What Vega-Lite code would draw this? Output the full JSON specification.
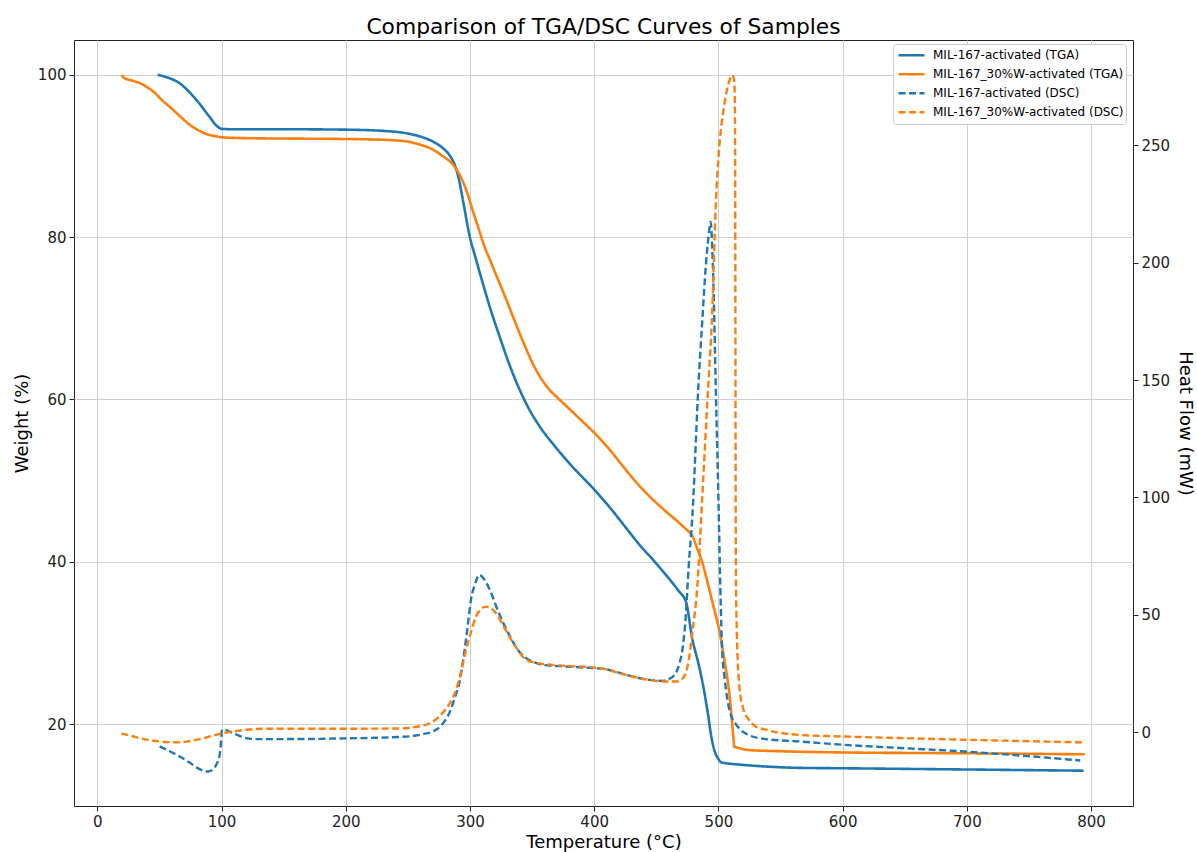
{
  "$schema": "https://vega.github.io/schema/vega-lite/v6.json",
  "width": 1059,
  "height": 766,
  "autosize": {"type": "none"},
  "padding": {"left": 74, "top": 40, "right": 64, "bottom": 46},
  "title": {"text": "Comparison of TGA/DSC Curves of Samples", "fontSize": 21.8, "font": "DejaVu Sans", "fontWeight": "normal", "color": "#000", "offset": 1, "anchor": "middle"},
  "datasets": {
    "tga": [
      {"series": "MIL-167-activated (TGA)", "temp": 48.6, "value": 100}, {"series": "MIL-167-activated (TGA)", "temp": 56, "value": 99.7}, {"series": "MIL-167-activated (TGA)", "temp": 66, "value": 99.0}, {"series": "MIL-167-activated (TGA)", "temp": 74, "value": 97.9}, {"series": "MIL-167-activated (TGA)", "temp": 82, "value": 96.5}, {"series": "MIL-167-activated (TGA)", "temp": 90, "value": 94.9}, {"series": "MIL-167-activated (TGA)", "temp": 97, "value": 93.6}, {"series": "MIL-167-activated (TGA)", "temp": 100, "value": 93.35}, {"series": "MIL-167-activated (TGA)", "temp": 110, "value": 93.3}, {"series": "MIL-167-activated (TGA)", "temp": 150, "value": 93.3}, {"series": "MIL-167-activated (TGA)", "temp": 200, "value": 93.25}, {"series": "MIL-167-activated (TGA)", "temp": 230, "value": 93.1}, {"series": "MIL-167-activated (TGA)", "temp": 249, "value": 92.8}, {"series": "MIL-167-activated (TGA)", "temp": 260, "value": 92.4}, {"series": "MIL-167-activated (TGA)", "temp": 270, "value": 91.8}, {"series": "MIL-167-activated (TGA)", "temp": 278, "value": 91.0}, {"series": "MIL-167-activated (TGA)", "temp": 284, "value": 90.0}, {"series": "MIL-167-activated (TGA)", "temp": 288, "value": 88.8}, {"series": "MIL-167-activated (TGA)", "temp": 291, "value": 87.2}, {"series": "MIL-167-activated (TGA)", "temp": 295, "value": 84.0}, {"series": "MIL-167-activated (TGA)", "temp": 299.5, "value": 80.3}, {"series": "MIL-167-activated (TGA)", "temp": 305, "value": 77.2}, {"series": "MIL-167-activated (TGA)", "temp": 310, "value": 74.5}, {"series": "MIL-167-activated (TGA)", "temp": 317, "value": 70.9}, {"series": "MIL-167-activated (TGA)", "temp": 324, "value": 67.7}, {"series": "MIL-167-activated (TGA)", "temp": 332, "value": 64.2}, {"series": "MIL-167-activated (TGA)", "temp": 340, "value": 61.2}, {"series": "MIL-167-activated (TGA)", "temp": 348, "value": 58.7}, {"series": "MIL-167-activated (TGA)", "temp": 356, "value": 56.7}, {"series": "MIL-167-activated (TGA)", "temp": 368, "value": 54.3}, {"series": "MIL-167-activated (TGA)", "temp": 382, "value": 51.8}, {"series": "MIL-167-activated (TGA)", "temp": 400, "value": 48.9}, {"series": "MIL-167-activated (TGA)", "temp": 412, "value": 46.8}, {"series": "MIL-167-activated (TGA)", "temp": 425, "value": 44.3}, {"series": "MIL-167-activated (TGA)", "temp": 437, "value": 42.0}, {"series": "MIL-167-activated (TGA)", "temp": 447, "value": 40.3}, {"series": "MIL-167-activated (TGA)", "temp": 456, "value": 38.7}, {"series": "MIL-167-activated (TGA)", "temp": 463, "value": 37.4}, {"series": "MIL-167-activated (TGA)", "temp": 468, "value": 36.4}, {"series": "MIL-167-activated (TGA)", "temp": 474, "value": 35.0}, {"series": "MIL-167-activated (TGA)", "temp": 479, "value": 30.5}, {"series": "MIL-167-activated (TGA)", "temp": 484, "value": 27.4}, {"series": "MIL-167-activated (TGA)", "temp": 488, "value": 24.5}, {"series": "MIL-167-activated (TGA)", "temp": 491, "value": 21.8}, {"series": "MIL-167-activated (TGA)", "temp": 494.6, "value": 18.2}, {"series": "MIL-167-activated (TGA)", "temp": 497.8, "value": 16.3}, {"series": "MIL-167-activated (TGA)", "temp": 500, "value": 15.7}, {"series": "MIL-167-activated (TGA)", "temp": 502, "value": 15.3}, {"series": "MIL-167-activated (TGA)", "temp": 510, "value": 15.1}, {"series": "MIL-167-activated (TGA)", "temp": 517, "value": 15.0}, {"series": "MIL-167-activated (TGA)", "temp": 540, "value": 14.75}, {"series": "MIL-167-activated (TGA)", "temp": 565, "value": 14.6}, {"series": "MIL-167-activated (TGA)", "temp": 600, "value": 14.55}, {"series": "MIL-167-activated (TGA)", "temp": 700, "value": 14.4}, {"series": "MIL-167-activated (TGA)", "temp": 794, "value": 14.25},
      {"series": "MIL-167_30%W-activated (TGA)", "temp": 19.9, "value": 100}, {"series": "MIL-167_30%W-activated (TGA)", "temp": 20.5, "value": 99.8}, {"series": "MIL-167_30%W-activated (TGA)", "temp": 22, "value": 99.6}, {"series": "MIL-167_30%W-activated (TGA)", "temp": 28, "value": 99.3}, {"series": "MIL-167_30%W-activated (TGA)", "temp": 34, "value": 99.0}, {"series": "MIL-167_30%W-activated (TGA)", "temp": 40, "value": 98.5}, {"series": "MIL-167_30%W-activated (TGA)", "temp": 45, "value": 97.95}, {"series": "MIL-167_30%W-activated (TGA)", "temp": 52, "value": 96.9}, {"series": "MIL-167_30%W-activated (TGA)", "temp": 61, "value": 95.7}, {"series": "MIL-167_30%W-activated (TGA)", "temp": 68, "value": 94.7}, {"series": "MIL-167_30%W-activated (TGA)", "temp": 74.4, "value": 93.85}, {"series": "MIL-167_30%W-activated (TGA)", "temp": 81, "value": 93.2}, {"series": "MIL-167_30%W-activated (TGA)", "temp": 88, "value": 92.7}, {"series": "MIL-167_30%W-activated (TGA)", "temp": 95, "value": 92.45}, {"series": "MIL-167_30%W-activated (TGA)", "temp": 101, "value": 92.3}, {"series": "MIL-167_30%W-activated (TGA)", "temp": 120, "value": 92.2}, {"series": "MIL-167_30%W-activated (TGA)", "temp": 155, "value": 92.15}, {"series": "MIL-167_30%W-activated (TGA)", "temp": 200, "value": 92.1}, {"series": "MIL-167_30%W-activated (TGA)", "temp": 230, "value": 92.0}, {"series": "MIL-167_30%W-activated (TGA)", "temp": 249, "value": 91.8}, {"series": "MIL-167_30%W-activated (TGA)", "temp": 260, "value": 91.4}, {"series": "MIL-167_30%W-activated (TGA)", "temp": 270, "value": 90.8}, {"series": "MIL-167_30%W-activated (TGA)", "temp": 278, "value": 90.0}, {"series": "MIL-167_30%W-activated (TGA)", "temp": 286, "value": 89.0}, {"series": "MIL-167_30%W-activated (TGA)", "temp": 292, "value": 87.6}, {"series": "MIL-167_30%W-activated (TGA)", "temp": 297, "value": 85.8}, {"series": "MIL-167_30%W-activated (TGA)", "temp": 302, "value": 83.4}, {"series": "MIL-167_30%W-activated (TGA)", "temp": 307.5, "value": 80.8}, {"series": "MIL-167_30%W-activated (TGA)", "temp": 310, "value": 79.6}, {"series": "MIL-167_30%W-activated (TGA)", "temp": 318, "value": 76.5}, {"series": "MIL-167_30%W-activated (TGA)", "temp": 329, "value": 72.4}, {"series": "MIL-167_30%W-activated (TGA)", "temp": 342, "value": 67.4}, {"series": "MIL-167_30%W-activated (TGA)", "temp": 350, "value": 64.6}, {"series": "MIL-167_30%W-activated (TGA)", "temp": 356, "value": 62.9}, {"series": "MIL-167_30%W-activated (TGA)", "temp": 364, "value": 61.2}, {"series": "MIL-167_30%W-activated (TGA)", "temp": 372, "value": 60.0}, {"series": "MIL-167_30%W-activated (TGA)", "temp": 385, "value": 58.1}, {"series": "MIL-167_30%W-activated (TGA)", "temp": 400, "value": 55.9}, {"series": "MIL-167_30%W-activated (TGA)", "temp": 412, "value": 53.9}, {"series": "MIL-167_30%W-activated (TGA)", "temp": 423, "value": 51.8}, {"series": "MIL-167_30%W-activated (TGA)", "temp": 435, "value": 49.6}, {"series": "MIL-167_30%W-activated (TGA)", "temp": 447, "value": 47.7}, {"series": "MIL-167_30%W-activated (TGA)", "temp": 460, "value": 45.9}, {"series": "MIL-167_30%W-activated (TGA)", "temp": 467, "value": 45.0}, {"series": "MIL-167_30%W-activated (TGA)", "temp": 474, "value": 44.0}, {"series": "MIL-167_30%W-activated (TGA)", "temp": 479, "value": 43.2}, {"series": "MIL-167_30%W-activated (TGA)", "temp": 483, "value": 41.6}, {"series": "MIL-167_30%W-activated (TGA)", "temp": 487, "value": 39.9}, {"series": "MIL-167_30%W-activated (TGA)", "temp": 492, "value": 37.0}, {"series": "MIL-167_30%W-activated (TGA)", "temp": 496, "value": 34.5}, {"series": "MIL-167_30%W-activated (TGA)", "temp": 500.5, "value": 31.7}, {"series": "MIL-167_30%W-activated (TGA)", "temp": 505, "value": 27.7}, {"series": "MIL-167_30%W-activated (TGA)", "temp": 509, "value": 23.5}, {"series": "MIL-167_30%W-activated (TGA)", "temp": 512, "value": 18.5}, {"series": "MIL-167_30%W-activated (TGA)", "temp": 512.8, "value": 17.2}, {"series": "MIL-167_30%W-activated (TGA)", "temp": 515, "value": 17.1}, {"series": "MIL-167_30%W-activated (TGA)", "temp": 524, "value": 16.8}, {"series": "MIL-167_30%W-activated (TGA)", "temp": 550, "value": 16.65}, {"series": "MIL-167_30%W-activated (TGA)", "temp": 600, "value": 16.5}, {"series": "MIL-167_30%W-activated (TGA)", "temp": 700, "value": 16.4}, {"series": "MIL-167_30%W-activated (TGA)", "temp": 795, "value": 16.27}
    ],
    "dsc": [
      {"series": "MIL-167-activated (DSC)", "temp": 50.2, "value": -6.0}, {"series": "MIL-167-activated (DSC)", "temp": 58, "value": -8.0}, {"series": "MIL-167-activated (DSC)", "temp": 66.3, "value": -10.3}, {"series": "MIL-167-activated (DSC)", "temp": 74, "value": -12.8}, {"series": "MIL-167-activated (DSC)", "temp": 82.4, "value": -15.7}, {"series": "MIL-167-activated (DSC)", "temp": 89.1, "value": -16.7}, {"series": "MIL-167-activated (DSC)", "temp": 93, "value": -15.8}, {"series": "MIL-167-activated (DSC)", "temp": 95.8, "value": -13.8}, {"series": "MIL-167-activated (DSC)", "temp": 98.5, "value": -9.5}, {"series": "MIL-167-activated (DSC)", "temp": 99.6, "value": -4.0}, {"series": "MIL-167-activated (DSC)", "temp": 100.2, "value": 0.5}, {"series": "MIL-167-activated (DSC)", "temp": 101.5, "value": 1.2}, {"series": "MIL-167-activated (DSC)", "temp": 106.5, "value": 0.3}, {"series": "MIL-167-activated (DSC)", "temp": 113, "value": -1.2}, {"series": "MIL-167-activated (DSC)", "temp": 120, "value": -2.5}, {"series": "MIL-167-activated (DSC)", "temp": 128, "value": -2.9}, {"series": "MIL-167-activated (DSC)", "temp": 150, "value": -2.9}, {"series": "MIL-167-activated (DSC)", "temp": 200, "value": -2.6}, {"series": "MIL-167-activated (DSC)", "temp": 243, "value": -2.0}, {"series": "MIL-167-activated (DSC)", "temp": 255, "value": -1.5}, {"series": "MIL-167-activated (DSC)", "temp": 263, "value": -0.7}, {"series": "MIL-167-activated (DSC)", "temp": 270, "value": 0.3}, {"series": "MIL-167-activated (DSC)", "temp": 277, "value": 3.0}, {"series": "MIL-167-activated (DSC)", "temp": 283.4, "value": 8.2}, {"series": "MIL-167-activated (DSC)", "temp": 288, "value": 15.0}, {"series": "MIL-167-activated (DSC)", "temp": 291.4, "value": 20.9}, {"series": "MIL-167-activated (DSC)", "temp": 294, "value": 29}, {"series": "MIL-167-activated (DSC)", "temp": 296.8, "value": 39.4}, {"series": "MIL-167-activated (DSC)", "temp": 299, "value": 49}, {"series": "MIL-167-activated (DSC)", "temp": 300.8, "value": 56.4}, {"series": "MIL-167-activated (DSC)", "temp": 304, "value": 63}, {"series": "MIL-167-activated (DSC)", "temp": 307.5, "value": 67.0}, {"series": "MIL-167-activated (DSC)", "temp": 311, "value": 65.5}, {"series": "MIL-167-activated (DSC)", "temp": 315, "value": 61.8}, {"series": "MIL-167-activated (DSC)", "temp": 318.2, "value": 57.8}, {"series": "MIL-167-activated (DSC)", "temp": 321, "value": 53.8}, {"series": "MIL-167-activated (DSC)", "temp": 326, "value": 47.5}, {"series": "MIL-167-activated (DSC)", "temp": 331.6, "value": 41.5}, {"series": "MIL-167-activated (DSC)", "temp": 338, "value": 35.5}, {"series": "MIL-167-activated (DSC)", "temp": 345, "value": 31.6}, {"series": "MIL-167-activated (DSC)", "temp": 352, "value": 29.8}, {"series": "MIL-167-activated (DSC)", "temp": 358.4, "value": 28.7}, {"series": "MIL-167-activated (DSC)", "temp": 377, "value": 28.0}, {"series": "MIL-167-activated (DSC)", "temp": 400, "value": 27.3}, {"series": "MIL-167-activated (DSC)", "temp": 409, "value": 26.9}, {"series": "MIL-167-activated (DSC)", "temp": 418, "value": 25.7}, {"series": "MIL-167-activated (DSC)", "temp": 425.5, "value": 24.5}, {"series": "MIL-167-activated (DSC)", "temp": 435, "value": 23.2}, {"series": "MIL-167-activated (DSC)", "temp": 444, "value": 22.3}, {"series": "MIL-167-activated (DSC)", "temp": 450, "value": 22.0}, {"series": "MIL-167-activated (DSC)", "temp": 455, "value": 21.9}, {"series": "MIL-167-activated (DSC)", "temp": 460, "value": 22.6}, {"series": "MIL-167-activated (DSC)", "temp": 465.7, "value": 25.2}, {"series": "MIL-167-activated (DSC)", "temp": 469, "value": 30}, {"series": "MIL-167-activated (DSC)", "temp": 471, "value": 35.1}, {"series": "MIL-167-activated (DSC)", "temp": 473.7, "value": 49.3}, {"series": "MIL-167-activated (DSC)", "temp": 476, "value": 70}, {"series": "MIL-167-activated (DSC)", "temp": 479, "value": 91.8}, {"series": "MIL-167-activated (DSC)", "temp": 484, "value": 148.6}, {"series": "MIL-167-activated (DSC)", "temp": 487, "value": 175}, {"series": "MIL-167-activated (DSC)", "temp": 489.8, "value": 198.2}, {"series": "MIL-167-activated (DSC)", "temp": 492, "value": 211}, {"series": "MIL-167-activated (DSC)", "temp": 493.8, "value": 217.4}, {"series": "MIL-167-activated (DSC)", "temp": 495.1, "value": 205}, {"series": "MIL-167-activated (DSC)", "temp": 496.5, "value": 180}, {"series": "MIL-167-activated (DSC)", "temp": 497.8, "value": 148.6}, {"series": "MIL-167-activated (DSC)", "temp": 500, "value": 100}, {"series": "MIL-167-activated (DSC)", "temp": 501.8, "value": 56.4}, {"series": "MIL-167-activated (DSC)", "temp": 503, "value": 35.1}, {"series": "MIL-167-activated (DSC)", "temp": 505, "value": 23}, {"series": "MIL-167-activated (DSC)", "temp": 507.2, "value": 14}, {"series": "MIL-167-activated (DSC)", "temp": 510, "value": 7.5}, {"series": "MIL-167-activated (DSC)", "temp": 513.9, "value": 3.6}, {"series": "MIL-167-activated (DSC)", "temp": 518, "value": 1}, {"series": "MIL-167-activated (DSC)", "temp": 524, "value": -1.1}, {"series": "MIL-167-activated (DSC)", "temp": 538, "value": -2.9}, {"series": "MIL-167-activated (DSC)", "temp": 564.8, "value": -3.9}, {"series": "MIL-167-activated (DSC)", "temp": 599.6, "value": -5.3}, {"series": "MIL-167-activated (DSC)", "temp": 650, "value": -6.8}, {"series": "MIL-167-activated (DSC)", "temp": 698.8, "value": -8.2}, {"series": "MIL-167-activated (DSC)", "temp": 750, "value": -10.2}, {"series": "MIL-167-activated (DSC)", "temp": 791.3, "value": -12.0},
      {"series": "MIL-167_30%W-activated (DSC)", "temp": 19.4, "value": -0.6}, {"series": "MIL-167_30%W-activated (DSC)", "temp": 27, "value": -1.5}, {"series": "MIL-167_30%W-activated (DSC)", "temp": 34.2, "value": -2.5}, {"series": "MIL-167_30%W-activated (DSC)", "temp": 42, "value": -3.3}, {"series": "MIL-167_30%W-activated (DSC)", "temp": 50.2, "value": -3.9}, {"series": "MIL-167_30%W-activated (DSC)", "temp": 57, "value": -4.2}, {"series": "MIL-167_30%W-activated (DSC)", "temp": 63.7, "value": -4.3}, {"series": "MIL-167_30%W-activated (DSC)", "temp": 70, "value": -4.1}, {"series": "MIL-167_30%W-activated (DSC)", "temp": 77, "value": -3.5}, {"series": "MIL-167_30%W-activated (DSC)", "temp": 84, "value": -2.7}, {"series": "MIL-167_30%W-activated (DSC)", "temp": 90.4, "value": -1.8}, {"series": "MIL-167_30%W-activated (DSC)", "temp": 97, "value": -0.9}, {"series": "MIL-167_30%W-activated (DSC)", "temp": 103.9, "value": -0.1}, {"series": "MIL-167_30%W-activated (DSC)", "temp": 111, "value": 0.5}, {"series": "MIL-167_30%W-activated (DSC)", "temp": 120, "value": 1.1}, {"series": "MIL-167_30%W-activated (DSC)", "temp": 136, "value": 1.5}, {"series": "MIL-167_30%W-activated (DSC)", "temp": 180, "value": 1.5}, {"series": "MIL-167_30%W-activated (DSC)", "temp": 243, "value": 1.6}, {"series": "MIL-167_30%W-activated (DSC)", "temp": 255, "value": 2.2}, {"series": "MIL-167_30%W-activated (DSC)", "temp": 264.7, "value": 3.2}, {"series": "MIL-167_30%W-activated (DSC)", "temp": 272, "value": 5.2}, {"series": "MIL-167_30%W-activated (DSC)", "temp": 278, "value": 8.2}, {"series": "MIL-167_30%W-activated (DSC)", "temp": 284, "value": 12.5}, {"series": "MIL-167_30%W-activated (DSC)", "temp": 288.8, "value": 18.1}, {"series": "MIL-167_30%W-activated (DSC)", "temp": 293, "value": 26}, {"series": "MIL-167_30%W-activated (DSC)", "temp": 296.8, "value": 35.1}, {"series": "MIL-167_30%W-activated (DSC)", "temp": 301, "value": 43}, {"series": "MIL-167_30%W-activated (DSC)", "temp": 304.9, "value": 49.3}, {"series": "MIL-167_30%W-activated (DSC)", "temp": 309, "value": 52.5}, {"series": "MIL-167_30%W-activated (DSC)", "temp": 312.9, "value": 53.5}, {"series": "MIL-167_30%W-activated (DSC)", "temp": 317, "value": 52.8}, {"series": "MIL-167_30%W-activated (DSC)", "temp": 321, "value": 50.7}, {"series": "MIL-167_30%W-activated (DSC)", "temp": 326, "value": 46.2}, {"series": "MIL-167_30%W-activated (DSC)", "temp": 331.6, "value": 40.8}, {"series": "MIL-167_30%W-activated (DSC)", "temp": 338, "value": 35.5}, {"series": "MIL-167_30%W-activated (DSC)", "temp": 345, "value": 30.9}, {"series": "MIL-167_30%W-activated (DSC)", "temp": 352, "value": 29.7}, {"series": "MIL-167_30%W-activated (DSC)", "temp": 358.4, "value": 29.1}, {"series": "MIL-167_30%W-activated (DSC)", "temp": 377, "value": 28.3}, {"series": "MIL-167_30%W-activated (DSC)", "temp": 404, "value": 27.3}, {"series": "MIL-167_30%W-activated (DSC)", "temp": 412, "value": 26.4}, {"series": "MIL-167_30%W-activated (DSC)", "temp": 420, "value": 25.2}, {"series": "MIL-167_30%W-activated (DSC)", "temp": 428, "value": 24.1}, {"series": "MIL-167_30%W-activated (DSC)", "temp": 436, "value": 23.1}, {"series": "MIL-167_30%W-activated (DSC)", "temp": 446, "value": 22.2}, {"series": "MIL-167_30%W-activated (DSC)", "temp": 457.6, "value": 21.6}, {"series": "MIL-167_30%W-activated (DSC)", "temp": 467, "value": 21.6}, {"series": "MIL-167_30%W-activated (DSC)", "temp": 471, "value": 22.8}, {"series": "MIL-167_30%W-activated (DSC)", "temp": 473.7, "value": 25.2}, {"series": "MIL-167_30%W-activated (DSC)", "temp": 476.5, "value": 32}, {"series": "MIL-167_30%W-activated (DSC)", "temp": 479, "value": 42.2}, {"series": "MIL-167_30%W-activated (DSC)", "temp": 483, "value": 62}, {"series": "MIL-167_30%W-activated (DSC)", "temp": 487, "value": 100}, {"series": "MIL-167_30%W-activated (DSC)", "temp": 491, "value": 140}, {"series": "MIL-167_30%W-activated (DSC)", "temp": 495.1, "value": 180}, {"series": "MIL-167_30%W-activated (DSC)", "temp": 497.8, "value": 223.7}, {"series": "MIL-167_30%W-activated (DSC)", "temp": 500.5, "value": 247.9}, {"series": "MIL-167_30%W-activated (DSC)", "temp": 504.5, "value": 266.3}, {"series": "MIL-167_30%W-activated (DSC)", "temp": 508, "value": 276}, {"series": "MIL-167_30%W-activated (DSC)", "temp": 511.2, "value": 279.8}, {"series": "MIL-167_30%W-activated (DSC)", "temp": 512.6, "value": 278}, {"series": "MIL-167_30%W-activated (DSC)", "temp": 513.2, "value": 270}, {"series": "MIL-167_30%W-activated (DSC)", "temp": 513.5, "value": 240}, {"series": "MIL-167_30%W-activated (DSC)", "temp": 513.7, "value": 170}, {"series": "MIL-167_30%W-activated (DSC)", "temp": 513.9, "value": 100}, {"series": "MIL-167_30%W-activated (DSC)", "temp": 514.3, "value": 56}, {"series": "MIL-167_30%W-activated (DSC)", "temp": 516.6, "value": 20.9}, {"series": "MIL-167_30%W-activated (DSC)", "temp": 520, "value": 10}, {"series": "MIL-167_30%W-activated (DSC)", "temp": 524.6, "value": 5.3}, {"series": "MIL-167_30%W-activated (DSC)", "temp": 530, "value": 2.5}, {"series": "MIL-167_30%W-activated (DSC)", "temp": 538, "value": 1.1}, {"series": "MIL-167_30%W-activated (DSC)", "temp": 564.8, "value": -1.1}, {"series": "MIL-167_30%W-activated (DSC)", "temp": 599.6, "value": -1.8}, {"series": "MIL-167_30%W-activated (DSC)", "temp": 650, "value": -2.5}, {"series": "MIL-167_30%W-activated (DSC)", "temp": 698.8, "value": -3.2}, {"series": "MIL-167_30%W-activated (DSC)", "temp": 750, "value": -3.8}, {"series": "MIL-167_30%W-activated (DSC)", "temp": 794, "value": -4.3}
    ]
  },
  "encoding": {
    "x": {"field": "temp", "type": "quantitative", "scale": {"domain": [-18.75, 833.75], "nice": false, "zero": false},
      "axis": {"title": "Temperature (°C)", "values": [0, 100, 200, 300, 400, 500, 600, 700, 800], "grid": true, "labelPadding": 3, "titlePadding": 4}},
    "color": {"field": "series", "type": "nominal",
      "scale": {"domain": ["MIL-167-activated (TGA)", "MIL-167_30%W-activated (TGA)", "MIL-167-activated (DSC)", "MIL-167_30%W-activated (DSC)"], "range": ["#1f77b4", "#ff7f0e", "#1f77b4", "#ff7f0e"]},
      "legend": {"orient": "none", "legendX": 819, "legendY": 4, "title": null, "symbolType": "stroke", "symbolSize": 676, "symbolStrokeWidth": 2.5, "symbolOffset": 2, "clipHeight": 18.7, "labelFontSize": 12, "labelFont": "DejaVu Sans", "labelColor": "#000", "labelLimit": 400, "padding": 2, "rowPadding": 0, "labelOffset": 7, "strokeColor": "#cccccc", "fillColor": "#ffffff", "cornerRadius": 3}},
    "strokeDash": {"field": "series", "type": "nominal",
      "scale": {"domain": ["MIL-167-activated (TGA)", "MIL-167_30%W-activated (TGA)", "MIL-167-activated (DSC)", "MIL-167_30%W-activated (DSC)"], "range": [[1, 0], [1, 0], [7, 3.5], [7, 3.5]]},
      "legend": {"orient": "none", "legendX": 819, "legendY": 4, "title": null, "symbolType": "stroke", "symbolSize": 676, "symbolStrokeWidth": 2.5, "symbolOffset": 2, "clipHeight": 18.7, "labelFontSize": 12, "labelFont": "DejaVu Sans", "labelColor": "#000", "labelLimit": 400, "padding": 2, "rowPadding": 0, "labelOffset": 7, "strokeColor": "#cccccc", "fillColor": "#ffffff", "cornerRadius": 3}}
  },
  "layer": [
    {
      "data": {"name": "tga"},
      "mark": {"type": "line", "strokeWidth": 2.6, "interpolate": "monotone"},
      "encoding": {
        "detail": {"field": "series", "type": "nominal"},
        "y": {"field": "value", "type": "quantitative", "scale": {"domain": [9.9, 104.3], "nice": false, "zero": false},
          "axis": {"title": "Weight (%)", "orient": "left", "values": [20, 40, 60, 80, 100], "grid": true, "labelPadding": 3, "titlePadding": 6}}
      }
    },
    {
      "data": {"name": "dsc"},
      "mark": {"type": "line", "strokeWidth": 2.4, "interpolate": "monotone"},
      "encoding": {
        "detail": {"field": "series", "type": "nominal"},
        "y": {"field": "value", "type": "quantitative", "scale": {"domain": [-31.4, 294.8], "nice": false, "zero": false},
          "axis": {"title": "Heat Flow (mW)", "orient": "right", "values": [0, 50, 100, 150, 200, 250], "grid": false, "labelPadding": 3, "titlePadding": 6}}
      }
    }
  ],
  "resolve": {"scale": {"y": "independent"}, "axis": {"y": "independent"}},
  "config": {
    "font": "DejaVu Sans",
    "view": {"stroke": "#222", "strokeWidth": 1},
    "axis": {"labelFontSize": 15, "titleFontSize": 18, "labelColor": "#222", "titleColor": "#000", "tickColor": "#222", "tickSize": 5, "domain": false, "gridColor": "#d0d0d0", "gridWidth": 1, "titleFontWeight": "normal", "labelFont": "DejaVu Sans", "titleFont": "DejaVu Sans"}
  }
}
